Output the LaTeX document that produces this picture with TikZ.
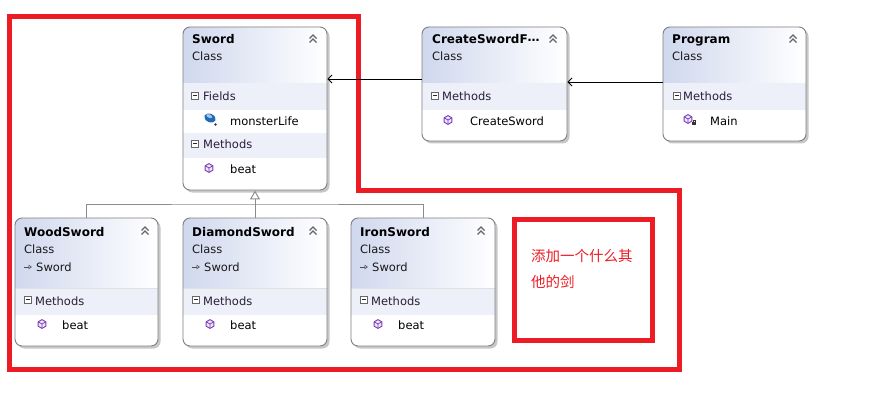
\documentclass[tikz,border=0pt]{standalone}
\usepackage{fontspec}
\setmainfont{DejaVu Sans}
\newfontfamily\cjk{Noto Sans CJK SC}
\usetikzlibrary{arrows.meta,fit}
\definecolor{redmark}{HTML}{ED1C24}
\definecolor{hdrblue}{HTML}{D0D8EE}
\definecolor{bandc}{HTML}{EDF0F8}
\definecolor{framec}{HTML}{7F7F7F}
\definecolor{methodpurple}{HTML}{7A3DB8}
\definecolor{fieldblue}{HTML}{1E6BB8}
\definecolor{seclabel}{HTML}{2A1E3A}
\tikzset{
  cframe/.style={draw=framec, line width=0.9pt, rounded corners=7pt, inner sep=0pt},
  ttl/.style={anchor=base west, inner sep=0pt, font=\bfseries\fontsize{12}{14}\selectfont},
  sub/.style={anchor=base west, inner sep=0pt, text=black!90, font=\fontsize{11.5}{14}\selectfont},
  sec/.style={anchor=base west, inner sep=0pt, text=seclabel, font=\fontsize{11.5}{14}\selectfont},
  item/.style={anchor=base west, inner sep=0pt, font=\fontsize{11.5}{14}\selectfont},
  chevron/.style={draw=black!60, line width=1.1pt},
  assoc/.style={draw=black, line width=0.8pt, -{Straight Barb[length=4pt,width=8pt]}},
  inh/.style={draw=black!45, line width=1pt},
  redframe/.style={draw=redmark, line width=5pt},
  note/.style={anchor=base west, inner sep=0pt, text=redmark, font=\cjk\fontsize{14.5}{18}\selectfont}
}
\newcommand\classbg[5]{%
  \fill[black!22, rounded corners=7pt] (#1+2.5,#2+2.5) rectangle (#3+2.5,#4+2.5);
  \fill[white, rounded corners=7pt] (#1,#2) rectangle (#3,#4);
  \begin{scope}
    \clip[rounded corners=7pt] (#1,#2) rectangle (#3,#4);
    \shade[left color=hdrblue, right color=white] (#1,#2) rectangle (#3,#5);
    \draw[black!12] (#1,#5) -- (#3,#5);
  \end{scope}}
\newcommand\chev[2]{\draw[chevron] (#1-3.5,#2+3.5) -- (#1,#2) -- (#1+3.5,#2+3.5) (#1-3.5,#2+7.5) -- (#1,#2+4) -- (#1+3.5,#2+7.5);}
\newcommand\minusbox[2]{\draw[black!60, fill=white, line width=0.7pt] (#1,#2) rectangle +(7,7); \draw[black!85, line width=0.8pt] (#1+1.8,#2+3.5) -- +(3.4,0);}
\newcommand\methodicon[2]{%
  \draw[methodpurple, line width=0.9pt, fill=methodpurple!12] (#1,#2) +(30:4.4pt) -- +(90:4.4pt) -- +(150:4.4pt) -- +(210:4.4pt) -- +(270:4.4pt) -- +(330:4.4pt) -- cycle;
  \draw[methodpurple, line width=0.8pt] (#1,#2) -- +(150:4.4pt) (#1,#2) -- +(30:4.4pt) (#1,#2) -- +(270:4.4pt);}
\newcommand\fieldicon[2]{%
  \fill[fieldblue, rotate around={-25:(#1,#2)}] (#1,#2) ellipse [x radius=6pt, y radius=4.2pt];
  \fill[fieldblue!40!white, rotate around={-25:(#1,#2)}] (#1-1.5,#2-1.4) ellipse [x radius=3.2pt, y radius=1.7pt];
  \fill[black!75] (#1+5.5,#2+6.5) circle (1.4pt);}
\newcommand\lockicon[2]{%
  \draw[black!80, line width=0.6pt] (#1+1,#2) -- (#1+1,#2-1.5) -- (#1+3,#2-1.5) -- (#1+3,#2);
  \fill[black!80] (#1,#2) rectangle +(4,3.2);}
\newcommand\inharrow[2]{\draw[black!70, line width=0.6pt, -{Triangle[open,length=3.5pt,width=4.5pt]}] (#1,#2) -- +(8,0);}
\begin{document}
\begin{tikzpicture}[x=1pt,y=-1pt]
\useasboundingbox (0,0) rectangle (894,401);
\fill[white] (0,0) rectangle (894,401);
% red marks
\draw[redframe] (9,16.5) -- (358,16.5) -- (358,190.5) -- (679.5,190.5) -- (679.5,369.5) -- (9,369.5) -- cycle;
\node[redframe, fit={(514.5,219.5)(652.5,340.5)}, inner sep=0pt] (notebox) {};
\node[note] (note1) at (531,261) {添加一个什么其};
\node[note] (note2) at (531,287) {他的剑};
% Sword
\classbg{183}{27}{327}{190}{83}
\fill[bandc] (183,83.5) rectangle (327,110);
\fill[bandc] (183,133) rectangle (327,158);
\node[ttl] (sword-t) at (192,44) {Sword};
\node[sub] (sword-c) at (192,61) {Class};
\chev{313}{35}
\minusbox{191.5}{92}
\node[sec] (sword-fl) at (203,101) {Fields};
\fieldicon{210}{118}
\node[item] (sword-f1) at (230,125) {monsterLife};
\minusbox{191.5}{140}
\node[sec] (sword-ml) at (203,149) {Methods};
\methodicon{209}{168}
\node[item] (sword-m1) at (230,173) {beat};
\node[cframe, fit={(183,27)(327,190)}] (sword) {};
% CreateSwordFactory
\classbg{422}{27}{567}{141}{83}
\fill[bandc] (422,83.5) rectangle (567,110);
\node[ttl] (create-t) at (432,44) {CreateSwordF\raisebox{2.5pt}{…}};
\node[sub] (create-c) at (432,61) {Class};
\chev{553}{35}
\minusbox{431.5}{92}
\node[sec] (create-ml) at (442,101) {Methods};
\methodicon{448}{120}
\node[item] (create-m1) at (470,125) {CreateSword};
\node[cframe, fit={(422,27)(567,141)}] (create) {};
% Program
\classbg{663}{27}{806}{141}{83}
\fill[bandc] (663,83.5) rectangle (806,110);
\node[ttl] (prog-t) at (672,44) {Program};
\node[sub] (prog-c) at (672,61) {Class};
\chev{793}{35}
\minusbox{673.5}{92}
\node[sec] (prog-ml) at (683,101) {Methods};
\methodicon{688}{119}
\lockicon{692}{122}
\node[item] (prog-m1) at (710,125) {Main};
\node[cframe, fit={(663,27)(806,141)}] (prog) {};
% WoodSword
\classbg{15}{218}{158}{346}{288}
\fill[bandc] (15,288.5) rectangle (158,315);
\node[ttl] (wood-t) at (24,236) {WoodSword};
\node[sub] (wood-c) at (24,253) {Class};
\inharrow{24}{267}
\node[sub] (wood-b) at (36,271) {Sword};
\chev{145}{227}
\minusbox{24.5}{296}
\node[sec] (wood-ml) at (35,305) {Methods};
\methodicon{42}{324}
\node[item] (wood-m1) at (62,329) {beat};
\node[cframe, fit={(15,218)(158,346)}] (wood) {};
% DiamondSword
\classbg{183}{218}{327}{346}{288}
\fill[bandc] (183,288.5) rectangle (327,315);
\node[ttl] (diamond-t) at (192,236) {DiamondSword};
\node[sub] (diamond-c) at (192,253) {Class};
\inharrow{192}{267}
\node[sub] (diamond-b) at (204,271) {Sword};
\chev{313}{227}
\minusbox{192.5}{296}
\node[sec] (diamond-ml) at (203,305) {Methods};
\methodicon{210}{324}
\node[item] (diamond-m1) at (230,329) {beat};
\node[cframe, fit={(183,218)(327,346)}] (diamond) {};
% IronSword
\classbg{351}{218}{495}{346}{288}
\fill[bandc] (351,288.5) rectangle (495,315);
\node[ttl] (iron-t) at (360,236) {IronSword};
\node[sub] (iron-c) at (360,253) {Class};
\inharrow{360}{267}
\node[sub] (iron-b) at (372,271) {Sword};
\chev{481}{227}
\minusbox{360.5}{296}
\node[sec] (iron-ml) at (371,305) {Methods};
\methodicon{378}{324}
\node[item] (iron-m1) at (398,329) {beat};
\node[cframe, fit={(351,218)(495,346)}] (iron) {};
% connectors
\path ([yshift=5pt]create.west) coordinate (a1);
\draw[assoc] (a1) -- (a1 -| sword.east);
\path ([yshift=2pt]prog.west) coordinate (a2);
\draw[assoc] (a2) -- (a2 -| create.east);
\coordinate (junc) at (255,204);
\draw[inh] (wood.north) |- (junc) -| (iron.north);
\draw[inh, -{Triangle[open,length=9pt,width=10pt,fill=white]}] (diamond.north) -- (sword.south);
\end{tikzpicture}
\end{document}
